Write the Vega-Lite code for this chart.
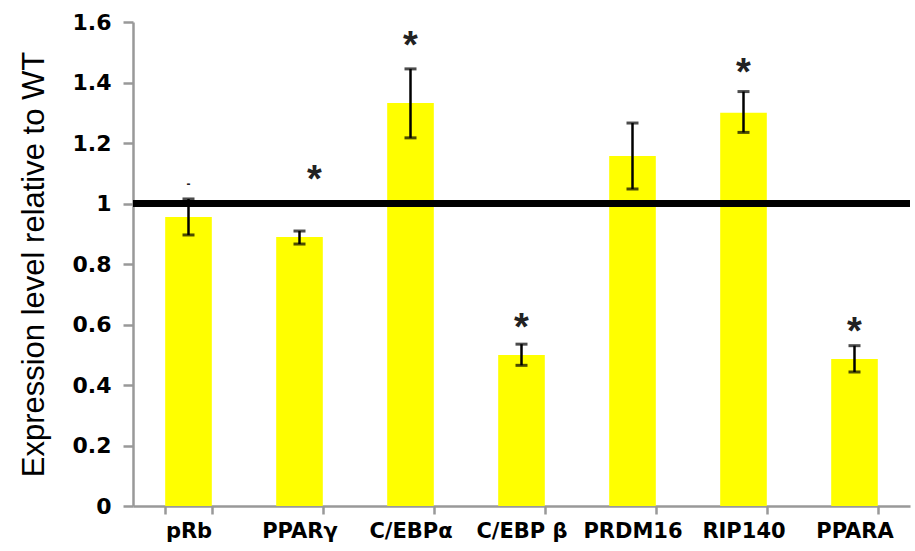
{
  "$schema": "https://vega.github.io/schema/vega-lite/v6.json",
  "width": 777,
  "height": 484,
  "autosize": {"type": "none"},
  "padding": {"left": 133, "top": 22, "right": 5, "bottom": 45},
  "background": "white",
  "config": {"view": {"stroke": null}, "font": "DejaVu Sans"},
  "data": {
    "values": [
      {"gene": "pRb", "mean": 0.955, "lo": 0.896, "hi": 1.015, "star": "-", "star_at": 1.09},
      {"gene": "PPARγ", "mean": 0.889, "lo": 0.866, "hi": 0.909, "star": "*", "star_at": 1.10},
      {"gene": "C/EBPα", "mean": 1.332, "lo": 1.217, "hi": 1.445, "star": "*", "star_at": 1.545},
      {"gene": "C/EBP β", "mean": 0.499, "lo": 0.465, "hi": 0.535, "star": "*", "star_at": 0.61},
      {"gene": "PRDM16", "mean": 1.157, "lo": 1.048, "hi": 1.266, "star": "", "star_at": 1.35},
      {"gene": "RIP140", "mean": 1.30, "lo": 1.235, "hi": 1.37, "star": "*", "star_at": 1.455},
      {"gene": "PPARA", "mean": 0.486, "lo": 0.443, "hi": 0.53, "star": "*", "star_at": 0.60}
    ]
  },
  "layer": [
    {
      "mark": {"type": "bar", "color": "#FFFF00"},
      "encoding": {
        "x": {
          "field": "gene", "type": "nominal", "sort": null,
          "scale": {"paddingInner": 0.58, "paddingOuter": 0.29},
          "axis": {
            "title": null, "labelAngle": 0, "domainColor": "#999999", "domainWidth": 2.5,
            "tickColor": "#999999", "tickWidth": 2.5, "tickSize": 8, "tickBand": "extent",
            "labelFont": "DejaVu Sans", "labelFontWeight": "bold", "labelFontSize": 21,
            "labelColor": "black", "labelPadding": 6
          }
        },
        "y": {
          "field": "mean", "type": "quantitative",
          "scale": {"domain": [0, 1.6], "nice": false},
          "axis": {
            "title": "Expression level relative to WT", "values": [0, 0.2, 0.4, 0.6, 0.8, 1, 1.2, 1.4, 1.6],
            "format": "~g",
            "grid": false, "domainColor": "#999999", "domainWidth": 2.5, "tickColor": "#999999",
            "tickWidth": 2.5, "tickSize": 10, "labelFont": "DejaVu Sans", "labelFontWeight": "bold",
            "labelFontSize": 22, "labelColor": "black", "labelPadding": 12,
            "titleFont": "Liberation Sans", "titleFontWeight": "normal", "titleFontSize": 31,
            "titleColor": "black", "titlePadding": 22
          }
        }
      }
    },
    {
      "mark": {"type": "rule", "color": "black", "strokeWidth": 6},
      "encoding": {"y": {"datum": 1}}
    },
    {
      "mark": {"type": "rule", "color": "black", "strokeWidth": 2.5},
      "encoding": {
        "x": {"field": "gene", "type": "nominal", "sort": null},
        "y": {"field": "lo", "type": "quantitative"}, "y2": {"field": "hi"}
      }
    },
    {
      "mark": {"type": "tick", "color": "black", "thickness": 3, "size": 12, "orient": "horizontal"},
      "encoding": {
        "x": {"field": "gene", "type": "nominal", "sort": null},
        "y": {"field": "lo", "type": "quantitative"}
      }
    },
    {
      "mark": {"type": "tick", "color": "black", "thickness": 3, "size": 12, "orient": "horizontal"},
      "encoding": {
        "x": {"field": "gene", "type": "nominal", "sort": null},
        "y": {"field": "hi", "type": "quantitative"}
      }
    },
    {
      "transform": [{"filter": "datum.gene !== 'PPARγ'"}],
      "mark": {"type": "text", "font": "Liberation Sans", "fontWeight": "bold", "color": "#222222", "baseline": "middle", "dy": 8},
      "encoding": {
        "x": {"field": "gene", "type": "nominal", "sort": null},
        "y": {"field": "star_at", "type": "quantitative"},
        "text": {"field": "star"},
        "size": {"condition": {"test": "datum.star === '-'", "value": 12}, "value": 38}
      }
    },
    {
      "transform": [{"filter": "datum.gene === 'PPARγ'"}],
      "mark": {"type": "text", "font": "Liberation Sans", "fontWeight": "bold", "fontSize": 38, "color": "#222222", "baseline": "middle", "dy": 8, "dx": 15},
      "encoding": {
        "x": {"field": "gene", "type": "nominal", "sort": null},
        "y": {"field": "star_at", "type": "quantitative"},
        "text": {"field": "star"}
      }
    }
  ]
}
